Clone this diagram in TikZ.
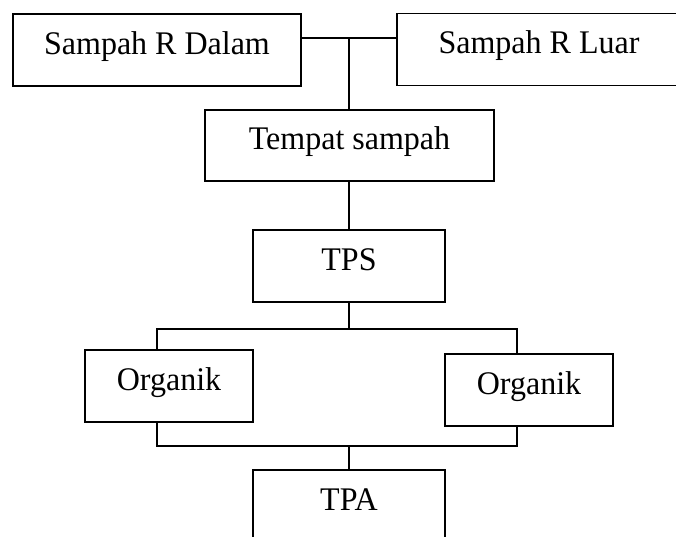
\documentclass[tikz,border=0pt]{standalone}
\usepackage{fontspec}
\setmainfont[FakeStretch=0.97]{Liberation Serif}
\begin{document}
\begin{tikzpicture}[x=1pt,y=-1pt,
  box/.style={draw=black, line width=1.6pt, inner sep=0pt,
    font=\fontsize{33}{38}\selectfont, text height=22pt, text depth=14pt,
    minimum height=72pt},
  conn/.style={draw=black, line width=1.2pt}]
\useasboundingbox (0,0) rectangle (676,536);
\clip (0,0) rectangle (676,536);
\node[box, minimum width=288pt] (dalam) at (157,50) {Sampah R Dalam};
\node[box, minimum width=284pt] (luar) at (539,49.5) {Sampah R Luar};
\node[box, minimum width=289pt, minimum height=71pt] (tempat) at (349.5,145.5) {Tempat sampah};
\node[box, minimum width=192pt] (tps) at (349,266) {TPS};
\node[box, minimum width=168pt] (org1) at (169,386) {Organik};
\node[box, minimum width=168pt] (org2) at (529,390) {Organik};
\node[box, minimum width=192pt] (tpa) at (349,506) {TPA};
\coordinate (j1) at (349,38);
\coordinate (l1) at (157,329);
\coordinate (r1) at (517,329);
\coordinate (l2) at (157,446);
\coordinate (r2) at (517,446);
\draw[conn] (dalam.east |- j1) -- (luar.west |- j1);
\draw[conn] (j1) -- (j1 |- tempat.north);
\draw[conn] (j1 |- tempat.south) -- (j1 |- tps.north);
\draw[conn] (j1 |- tps.south) -- (j1 |- l1);
\draw[conn] (l1 |- org1.north) -- (l1) -- (r1) -- (r1 |- org2.north);
\draw[conn] (l2 |- org1.south) -- (l2) -- (r2) -- (r2 |- org2.south);
\draw[conn] (j1 |- l2) -- (j1 |- tpa.north);
\end{tikzpicture}
\end{document}
